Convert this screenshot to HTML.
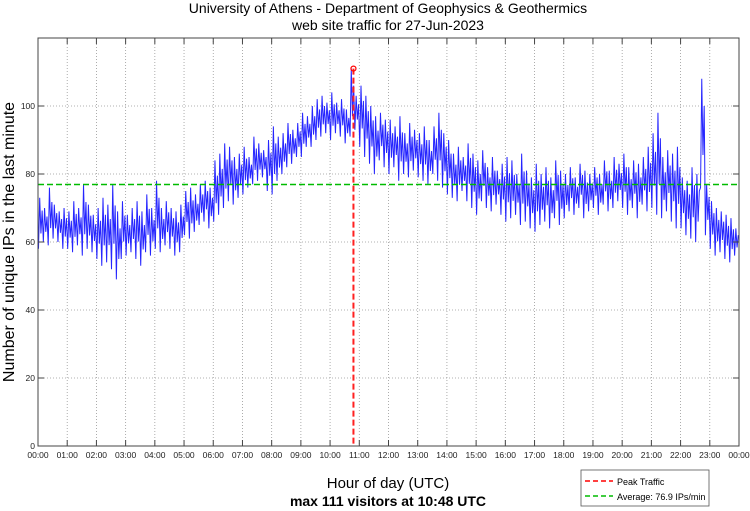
<!DOCTYPE html>
<html><head><meta charset="utf-8"><style>
body{margin:0;background:#fff;}
svg{display:block;font-family:"Liberation Sans",sans-serif;}
</style></head><body>
<svg id="c" width="750" height="511" viewBox="0 0 750 511">
<text x="388" y="13" font-size="14" text-anchor="middle">University of Athens - Department of Geophysics &amp; Geothermics</text>
<text x="388" y="30" font-size="14" text-anchor="middle">web site traffic for 27-Jun-2023</text>
<text transform="translate(14,242) rotate(-90)" font-size="16" text-anchor="middle">Number of unique IPs in the last minute</text>
<text x="388" y="488" font-size="15" text-anchor="middle">Hour of day (UTC)</text>
<text x="388" y="506" font-size="14" font-weight="bold" text-anchor="middle">max 111 visitors at 10:48 UTC</text>
<g id="grid"></g>
<g id="series"></g>
<g id="ref"></g>
<rect x="38" y="38" width="701" height="408" fill="none" stroke="#444" stroke-width="1"/>
<g id="ticks"></g>
<g>
<rect x="581" y="470" width="128" height="36" fill="#fff" stroke="#555" stroke-width="0.8"/>
<line x1="585" y1="481" x2="613" y2="481" stroke="#ff0000" stroke-width="1.5" stroke-dasharray="5,3"/>
<text x="617" y="485" font-size="9">Peak Traffic</text>
<line x1="585" y1="496" x2="613" y2="496" stroke="#00bb00" stroke-width="1.5" stroke-dasharray="5,3"/>
<text x="617" y="500" font-size="9">Average: 76.9 IPs/min</text>
</g>
</svg>
<script>
const hourLabels=["00:00","01:00","02:00","03:00","04:00","05:00","06:00","07:00","08:00","09:00","10:00","11:00","12:00","13:00","14:00","15:00","16:00","17:00","18:00","19:00","20:00","21:00","22:00","23:00","00:00"];
const yTicks=[0,20,40,60,80,100];
const binLow=[58,60,59,61,60,58, 58,57,59,56,58,57, 55,53,54,52,49,55, 56,57,55,53,57,56, 58,57,59,58,56,57, 62,61,63,65,66,64, 66,68,70,72,71,73, 74,76,77,78,79,75, 74,78,80,82,83,85, 85,88,88,90,91,92, 90,92,91,89,91,93, 88,85,83,80,84,82, 80,82,78,80,79,81, 79,78,77,80,78,76, 74,73,72,75,72,70, 68,72,70,69,71,68, 66,67,68,65,66,64, 63,65,66,64,67,65, 67,69,68,70,67,69, 70,68,71,69,70,72, 70,68,70,67,71,69, 70,68,67,69,66,64, 64,62,61,60,76,62, 58,56,57,55,54,56];
const binHigh=[73,70,76,71,69,70, 69,72,70,77,71,68, 70,73,71,77,69,72, 68,70,72,69,74,70, 78,70,72,70,69,71, 75,76,74,77,78,76, 84,86,89,88,85,86, 88,85,91,89,87,90, 94,91,92,95,93,95, 98,97,100,102,103,101, 104,101,102,99,111,103, 106,103,100,97,98,96, 96,94,97,92,95,93, 92,94,90,94,98,92, 90,86,88,85,89,86, 84,87,82,85,81,83, 85,84,80,86,81,79, 83,80,82,79,84,81, 80,82,79,83,81,80, 82,80,84,81,85,83, 86,82,84,83,85,88, 92,98,85,87,86,88, 79,78,82,80,108,77, 72,70,69,68,67,64];
const peakValue=111, peakHour=10.8, averageValue=76.9;

const NS="http://www.w3.org/2000/svg";
const L=38,R=739,T=38,B=446;
const xs=h=>L+(R-L)*h/24;
const ys=v=>B-(B-T)*v/120;
function mk(tag,attrs,parent){const e=document.createElementNS(NS,tag);for(const k in attrs)e.setAttribute(k,attrs[k]);document.getElementById(parent).appendChild(e);return e;}

hourLabels.forEach((lab,i)=>{
  const x=xs(i);
  if(i>0&&i<24){const g=mk('line',{x1:x,y1:T,x2:x,y2:B,stroke:'#999','stroke-width':0.8,'stroke-dasharray':'1,2'},'grid');
  
  }
  const t1=mk('line',{x1:x,y1:B,x2:x,y2:B-6,stroke:'#444'},'ticks');
  
  
  const t2=mk('line',{x1:x,y1:T,x2:x,y2:T+6,stroke:'#444'},'ticks');
  
  
  const tx=mk('text',{x:x,y:B+12,'font-size':8.5,'text-anchor':'middle',fill:'#222'},'ticks');
  tx.textContent=lab;
  
  
});
yTicks.forEach(v=>{
  const y=ys(v);
  if(v>0){const g=mk('line',{x1:L,y1:y,x2:R,y2:y,stroke:'#999','stroke-width':0.8,'stroke-dasharray':'1,2'},'grid');
  
  }
  const t1=mk('line',{x1:L,y1:y,x2:L+6,y2:y,stroke:'#444'},'ticks');
  
  
  const t2=mk('line',{x1:R,y1:y,x2:R-6,y2:y,stroke:'#444'},'ticks');
  
  
  const tx=mk('text',{x:L-3,y:y+3,'font-size':8.5,'text-anchor':'end',fill:'#222'},'ticks');
  tx.textContent=v;
  
  
});

let pts=[];
const n=binLow.length;
for(let i=0;i<n;i++){
  const h0=24*i/n, h1=24*(i+1)/n;
  const lo=binLow[i], hi=binHigh[i];
  pts.push(xs(h0+(h1-h0)*0.1)+','+ys(lo));
  pts.push(xs(h0+(h1-h0)*0.35)+','+ys(hi));
  pts.push(xs(h0+(h1-h0)*0.6)+','+ys(lo+(hi-lo)*0.3));
  pts.push(xs(h0+(h1-h0)*0.85)+','+ys(hi-(hi-lo)*0.25));
}
const pl=mk('polyline',{points:pts.join(' '),fill:'none',stroke:'#2525ff','stroke-width':1},'series');



const av=mk('line',{x1:L,y1:ys(averageValue),x2:R,y2:ys(averageValue),stroke:'#00bb00','stroke-width':1.5,'stroke-dasharray':'6,3'},'ref');


const pk=mk('line',{x1:xs(peakHour),y1:ys(peakValue),x2:xs(peakHour),y2:B,stroke:'#ff2020','stroke-width':2,'stroke-dasharray':'6,3'},'ref');


const pc=mk('circle',{cx:xs(peakHour),cy:ys(peakValue),r:2.5,fill:'none',stroke:'#ff0000','stroke-width':1.2},'ref');


</script>
</body></html>
